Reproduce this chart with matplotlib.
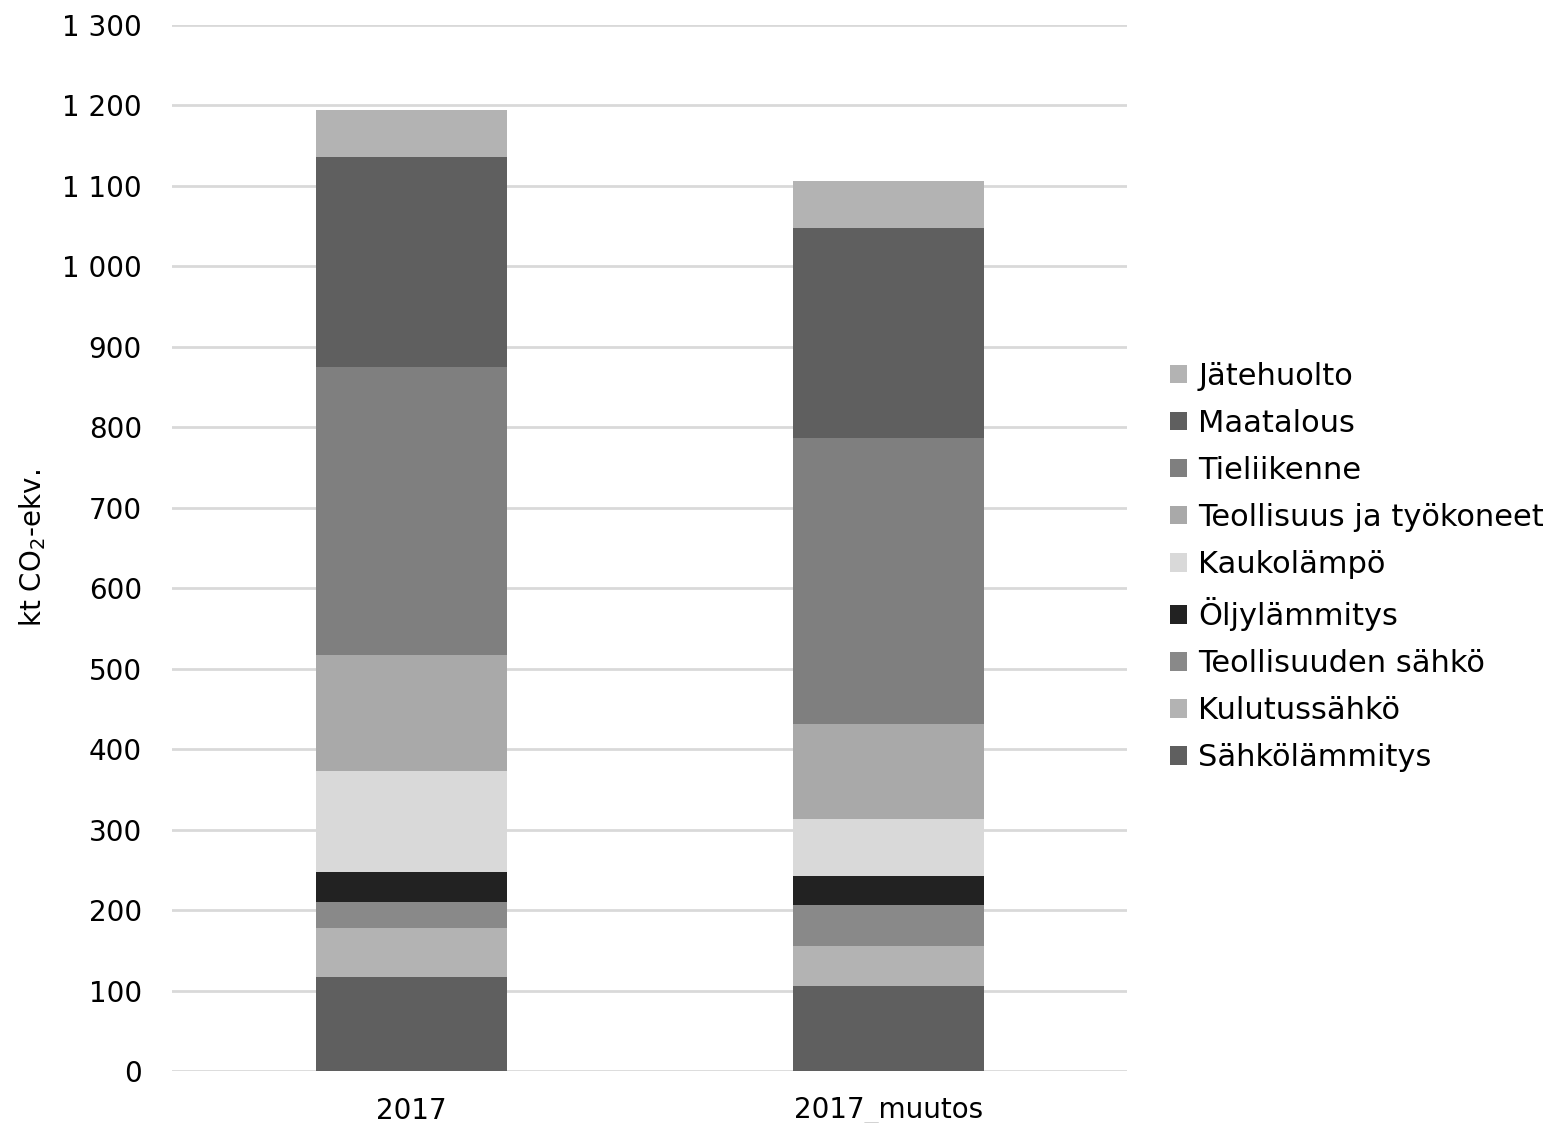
import matplotlib
matplotlib.use("Agg")
import matplotlib.pyplot as plt
from matplotlib.patches import Patch

plt.rcParams['font.family'] = ['DejaVu Sans']

categories = ["2017", "2017_muutos"]
sectors = ["Sähkölämmitys", "Kulutussähkö", "Teollisuuden sähkö", "Öljylämmitys",
           "Kaukolämpö", "Teollisuus ja työkoneet", "Tieliikenne", "Maatalous", "Jätehuolto"]
values = {
    "Sähkölämmitys": [117, 106],
    "Kulutussähkö": [61, 49],
    "Teollisuuden sähkö": [32, 51],
    "Öljylämmitys": [37, 36],
    "Kaukolämpö": [126, 71],
    "Teollisuus ja työkoneet": [144, 118],
    "Tieliikenne": [358, 356],
    "Maatalous": [261, 261],
    "Jätehuolto": [58, 58],
}
colors = {
    "Sähkölämmitys": "#5f5f5f",
    "Kulutussähkö": "#b3b3b3",
    "Teollisuuden sähkö": "#898989",
    "Öljylämmitys": "#222222",
    "Kaukolämpö": "#d9d9d9",
    "Teollisuus ja työkoneet": "#a9a9a9",
    "Tieliikenne": "#7f7f7f",
    "Maatalous": "#5f5f5f",
    "Jätehuolto": "#b3b3b3",
}
yticks = list(range(0, 1301, 100))

fig = plt.figure(figsize=(15.53, 11.23), dpi=100)
ax = fig.add_axes([0.111, 0.0463, 0.615, 0.9317])

x = list(range(len(categories)))
bottom = [0] * len(categories)
for s in sectors:
    ax.bar(x, values[s], 0.4, bottom=bottom, color=colors[s], zorder=3)
    bottom = [b + v for b, v in zip(bottom, values[s])]

ax.set_xlim(-0.5, 1.5)
ax.set_ylim(0, 1300)
ax.set_yticks(yticks)
ax.set_yticklabels([f"{t:,}".replace(",", " ") for t in yticks], fontsize=20)
ax.set_xticks(x)
ax.set_xticklabels(categories, fontsize=20)
ax.tick_params(axis='y', length=0, pad=22)
ax.tick_params(axis='x', length=0, pad=19)
ax.grid(axis='y', color='#d9d9d9', linewidth=2, zorder=0)
for sp in ax.spines.values():
    sp.set_visible(False)
ax.set_ylabel("kt CO$_2$-ekv.", fontsize=20, labelpad=10)

handles = [Patch(facecolor=colors[s], edgecolor='none') for s in reversed(sectors)]
fig.legend(handles, list(reversed(sectors)), loc='center left',
           bbox_to_anchor=(0.7534, 0.495), frameon=False, fontsize=22,
           borderpad=0, borderaxespad=0,
           handlelength=0.55, handleheight=0.55, handletextpad=0.38, labelspacing=0.59)

fig.savefig("out.png", dpi=100)
